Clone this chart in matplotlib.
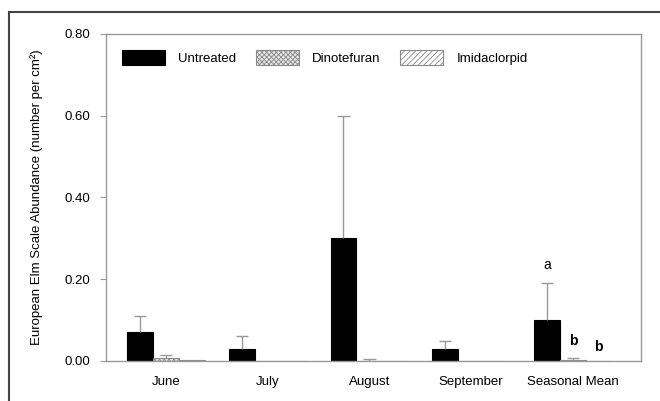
import numpy as np
import matplotlib
matplotlib.use("Agg")
import matplotlib.pyplot as plt
from matplotlib.lines import Line2D

plt.rcParams['font.family'] = ['Liberation Sans', 'DejaVu Sans']
plt.rcParams['hatch.linewidth'] = 0.6

# データ
months = ['June', 'July', 'August', 'September', 'Seasonal Mean']
untreated = [0.07, 0.03, 0.30, 0.03, 0.10]
untreated_err = [0.04, 0.03, 0.30, 0.02, 0.09]
dinotefuran = [0.008, 0.0, 0.0, 0.0, 0.002]
dinotefuran_err = [0.006, 0.0, 0.004, 0.0, 0.006]
imidacloprid = [0.002, 0.0, 0.0, 0.0, 0.0]
imidacloprid_err = [0.0, 0.0, 0.0, 0.0, 0.0]
letters = [('a', 'normal', 0, 0.235), ('b', 'bold', 1, 0.048), ('b', 'bold', 2, 0.035)]

fig = plt.figure(figsize=(6.6, 4.01), dpi=100)
ax = fig.add_axes([0.1606, 0.0998, 0.8106, 0.8155])

x = np.arange(len(months))
w = 0.255
grey = '#999999'
cap = 0.06
series = [
    (untreated, untreated_err, -w, dict(color='black', edgecolor='black'), 'Untreated'),
    (dinotefuran, dinotefuran_err, 0, dict(color='#e6e6e6', edgecolor='#8a8a8a', hatch='xxxxxxx'), 'Dinotefuran'),
    (imidacloprid, imidacloprid_err, w, dict(color='white', edgecolor='#8a8a8a', hatch='//////'), 'Imidaclorpid'),
]
for vals, errs, off, style, lab in series:
    ax.bar(x + off, vals, w, linewidth=0.8, label=lab, **style)
    vals = np.array(vals)
    errs = np.array(errs)
    m = errs > 0
    xc = (x + off)[m]
    top = vals[m] + errs[m]
    # 上側だけのエラーバー
    ax.vlines(xc, vals[m], top, color=grey, lw=1.0)
    ax.hlines(top, xc - cap, xc + cap, color=grey, lw=1.0)

# 有意差の文字
for txt, wt, k, yv in letters:
    ax.text(x[-1] + (k - 1) * w, yv, txt, ha='center', va='center',
            fontsize=10, fontweight=wt)

ax.set_xlim(-0.59, 4.67)
ax.set_ylim(0, 0.8)
ax.set_yticks([0, 0.2, 0.4, 0.6, 0.8])
ax.set_yticklabels(['0.00', '0.20', '0.40', '0.60', '0.80'], fontsize=9.5)
ax.set_xticks(x)
ax.set_xticklabels(months, fontsize=9.5)
ax.tick_params(axis='x', length=0, pad=11)
ax.tick_params(axis='y', length=4, color=grey, pad=7)
for s in ax.spines.values():
    s.set_color(grey)
    s.set_linewidth(1.0)
ax.set_ylabel('European Elm Scale Abundance (number per cm²)', fontsize=9.5, labelpad=16)

ax.legend(loc='center left', bbox_to_anchor=(0.03, 0.927), ncol=3, frameon=False,
          fontsize=9.5, handlelength=3.25, handleheight=1.35, handletextpad=1.0,
          columnspacing=1.5, borderpad=0, borderaxespad=0)

# 外枠
fig.add_artist(Line2D([9 / 660, 1.0], [1 - 12 / 401, 1 - 12 / 401], color='#444444', lw=1.5))
fig.add_artist(Line2D([9 / 660, 9 / 660], [0, 1 - 12 / 401], color='#444444', lw=1.5))

plt.savefig('out.png', dpi=100)
